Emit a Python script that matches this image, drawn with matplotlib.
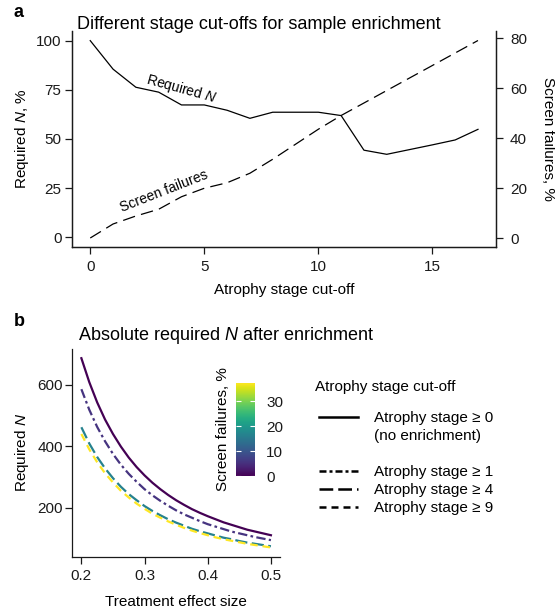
import numpy as np
import matplotlib
matplotlib.use("Agg")
import matplotlib.pyplot as plt
from matplotlib.lines import Line2D
from matplotlib import cm, colors

plt.rcParams['font.family'] = ['Liberation Sans', 'DejaVu Sans']
plt.rcParams['mathtext.fontset'] = 'custom'
plt.rcParams['mathtext.rm'] = 'Liberation Sans'
plt.rcParams['mathtext.it'] = 'Liberation Sans:italic'

# panel a data
stage = list(range(0, 18))
req_pct = [100, 85.5, 76.3, 73.8, 67.3, 67.3, 64.6, 60.5, 63.6, 63.6,
           63.6, 61.9, 44.3, 42.2, 44.6, 47.0, 49.5, 54.9]
screen_pct = [0, 5.6, 8.8, 11.5, 16.5, 19.9, 22.1, 25.9, 31.5, 37.5,
              43.5, 49.0, 54.0, 59.0, 64.0, 69.0, 74.0, 79.0]

# panel b data
effect = [0.2, 0.2125, 0.225, 0.2375, 0.25, 0.2625, 0.275, 0.2875, 0.3,
          0.3125, 0.325, 0.3375, 0.35, 0.3625, 0.375, 0.3875, 0.4,
          0.4125, 0.425, 0.4375, 0.45, 0.4625, 0.475, 0.4875, 0.5]
n_stage0 = [687, 609, 543, 487, 440, 399, 363, 332, 305, 281, 260, 241, 224,
            209, 195, 183, 172, 162, 152, 144, 136, 128, 122, 116, 110]
n_stage1 = [586, 519, 463, 416, 375, 340, 310, 284, 260, 240, 222, 206, 191,
            178, 167, 156, 146, 138, 130, 122, 116, 110, 104, 99, 94]
n_stage4 = [462, 409, 365, 328, 296, 268, 244, 224, 205, 189, 175, 162, 151,
            141, 131, 123, 116, 109, 102, 97, 91, 86, 82, 78, 74]
n_stage9 = [440, 390, 348, 312, 282, 255, 233, 213, 196, 180, 167, 155, 144,
            134, 125, 117, 110, 103, 97, 92, 87, 82, 78, 74, 70]
curve_fail = [0, 5.6, 16.5, 37.5]
curve_labels = ["Atrophy stage \u2265 0", "Atrophy stage \u2265 1",
                "Atrophy stage \u2265 4", "Atrophy stage \u2265 9"]
curve_dash = ['-', (0, (4.2, 1.5, 1.2, 1.5)), (0, (5.5, 2)), (0, (3.4, 2.2))]
key_dash = ['-', (0, (2.8, 1.2, 1.2, 1.2)), (0, (5.5, 2)), (0, (2.8, 2))]

W, H = 555, 610
def box(l, t, r, b):
    return [l / W, 1 - b / H, (r - l) / W, (b - t) / H]

fig = plt.figure(figsize=(5.55, 6.1), dpi=100)
ink = '#1a1a1a'

# ---------- panel a ----------
ax1 = fig.add_axes(box(72, 31, 496, 247))
ax2 = ax1.twinx()
ax1.plot(stage, req_pct, color='black', lw=0.9)
ax2.plot(stage, screen_pct, color='black', lw=0.9, ls=(0, (10, 5)))
ax1.set_xlim(-0.8, 17.79)
ax1.set_ylim(-4.93, 104.9)
ax2.set_ylim(-3.6, 82.8)
ax1.set_xticks([0, 5, 10, 15])
ax1.set_yticks([0, 25, 50, 75, 100])
ax2.set_yticks([0, 20, 40, 60, 80])
for a in (ax1, ax2):
    a.spines['top'].set_visible(False)
    for s in a.spines.values():
        s.set_linewidth(0.9)
        s.set_color(ink)
ax1.tick_params(axis='both', direction='out', length=5, width=0.9, labelsize=11,
                color=ink, labelcolor=ink)
ax1.tick_params(axis='y', pad=2.5)
ax1.tick_params(axis='x', pad=4.5)
ax2.tick_params(axis='y', direction='out', length=5, width=0.9, labelsize=11,
                color=ink, labelcolor=ink, pad=5)

ax1.set_xlabel('Atrophy stage cut-off', fontsize=11, va='center')
ax1.xaxis.set_label_coords(0.5, -0.199)
ax1.set_ylabel('Required $N$, %', fontsize=11, va='center')
ax1.yaxis.set_label_coords(-0.118, 0.5)
ax2.set_ylabel('Screen failures, %', fontsize=11, rotation=270, va='center')
ax2.yaxis.set_label_coords(1.123, 0.5)

ax1.text(4.0, 75.4, 'Required $N$', rotation=-15.5, ha='center', va='center', fontsize=10)
ax1.text(3.23, 23.2, 'Screen failures', rotation=21.4, ha='center', va='center', fontsize=10)

fig.text(77 / W, 1 - 29.3 / H, 'Different stage cut-offs for sample enrichment',
         fontsize=13, va='baseline')
fig.text(14 / W, 1 - 16.7 / H, 'a', fontsize=13, fontweight='bold', va='baseline')

# ---------- panel b ----------
axb = fig.add_axes(box(71.9, 349, 280.4, 556.7))
norm = colors.Normalize(vmin=0, vmax=37.5)
cmap = plt.get_cmap('viridis')
series = [n_stage0, n_stage1, n_stage4, n_stage9]
for vals, f, ls in zip(series, curve_fail, curve_dash):
    axb.plot(effect, vals, color=cmap(norm(f)), lw=1.6, ls=ls)
axb.set_xlim(0.185, 0.515)
axb.set_ylim(40, 717)
axb.set_xticks([0.2, 0.3, 0.4, 0.5])
axb.set_xticklabels(['0.2', '0.3', '0.4', '0.5'])
axb.set_yticks([200, 400, 600])
for s in ('top', 'right'):
    axb.spines[s].set_visible(False)
for s in ('left', 'bottom'):
    axb.spines[s].set_linewidth(0.9)
    axb.spines[s].set_color(ink)
axb.tick_params(axis='both', direction='out', length=5, width=0.9, labelsize=11,
                color=ink, labelcolor=ink)
axb.tick_params(axis='y', pad=1.5)
axb.tick_params(axis='x', pad=4)
axb.set_xlabel('Treatment effect size', fontsize=11, va='center')
axb.xaxis.set_label_coords(0.5, -0.2167)
axb.set_ylabel('Required $N$', fontsize=11, va='center')
axb.yaxis.set_label_coords(-0.239, 0.5)

fig.text(78 / W, 1 - 340 / H, 'Absolute required $N$ after enrichment',
         fontsize=13, va='baseline')
fig.text(14 / W, 1 - 326 / H, 'b', fontsize=13, fontweight='bold', va='baseline')

# colour bar
cax = fig.add_axes(box(236, 382.7, 255, 476))
sm = cm.ScalarMappable(norm=norm, cmap=cmap)
cbar = fig.colorbar(sm, cax=cax)
cbar.outline.set_visible(False)
cbar.set_ticks([0, 10, 20, 30])
cax.tick_params(direction='in', color='white', length=3.5, width=0.8,
                left=True, right=True, labelleft=False, labelright=True,
                labelsize=11, labelcolor=ink, pad=8)
cax.yaxis.set_label_position('left')
cax.set_ylabel('Screen failures, %', fontsize=11, va='center')
cax.yaxis.set_label_coords(-0.68, 0.5)

# legend
handles = [Line2D([], [], color='black', lw=1.8, ls=key_dash[0]),
           Line2D([], [], color='none'),
           Line2D([], [], color='none'),
           Line2D([], [], color='black', lw=1.8, ls=key_dash[1]),
           Line2D([], [], color='black', lw=1.8, ls=key_dash[2]),
           Line2D([], [], color='black', lw=1.8, ls=key_dash[3])]
labels = [curve_labels[0], '(no enrichment)', '', curve_labels[1], curve_labels[2], curve_labels[3]]
fig.legend(handles, labels, loc='upper left', bbox_to_anchor=(318.6 / W, 1 - 411 / H),
           frameon=False, fontsize=11, handlelength=2.55, handletextpad=1.1,
           labelspacing=0.26, borderpad=0, borderaxespad=0)
fig.text(315 / W, 1 - 386.7 / H, 'Atrophy stage cut-off', fontsize=11, va='center')

fig.savefig('out.png', dpi=100)
